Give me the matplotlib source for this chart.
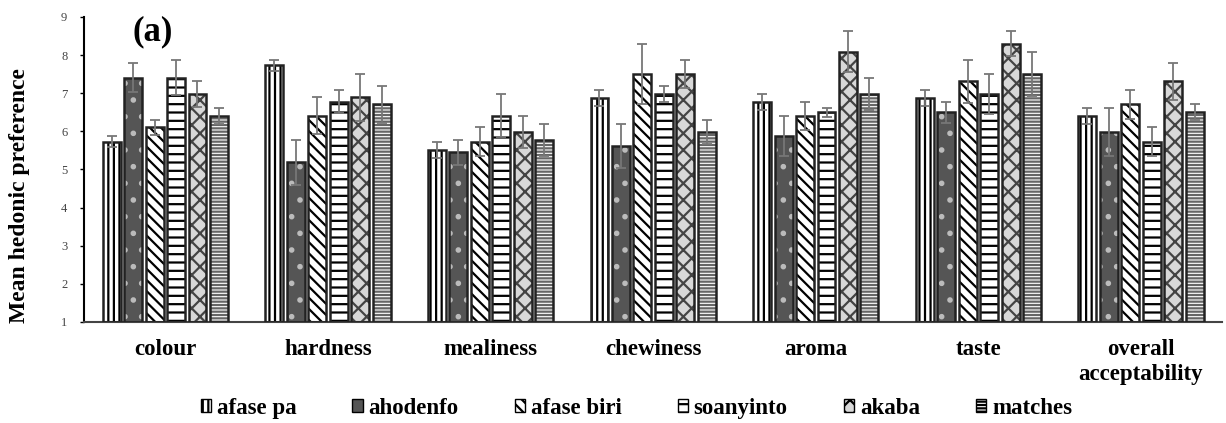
import numpy as np
import matplotlib
matplotlib.use('Agg')
import matplotlib.pyplot as plt
from matplotlib.patches import Patch

attributes = ['colour', 'hardness', 'mealiness', 'chewiness', 'aroma', 'taste', 'overall\nacceptability']
samples = ['afase pa', 'ahodenfo', 'afase biri', 'soanyinto', 'akaba', 'matches']

afase_pa = [5.73, 7.73, 5.51, 6.88, 6.77, 6.88, 6.41]
ahodenfo = [7.41, 5.19, 5.45, 5.62, 5.88, 6.50, 5.98]
afase_biri = [6.10, 6.41, 5.73, 7.51, 6.41, 7.31, 6.71]
soanyinto = [7.41, 6.78, 6.41, 6.98, 6.50, 6.98, 5.73]
akaba = [6.98, 6.89, 5.98, 7.51, 8.09, 8.30, 7.31]
matches = [6.41, 6.71, 5.77, 5.98, 6.98, 7.51, 6.50]

afase_pa_err = [0.15, 0.15, 0.20, 0.21, 0.21, 0.21, 0.21]
ahodenfo_err = [0.38, 0.59, 0.33, 0.58, 0.53, 0.28, 0.64]
afase_biri_err = [0.20, 0.48, 0.37, 0.79, 0.37, 0.57, 0.38]
soanyinto_err = [0.47, 0.31, 0.57, 0.21, 0.12, 0.53, 0.37]
akaba_err = [0.33, 0.62, 0.43, 0.37, 0.53, 0.32, 0.48]
matches_err = [0.21, 0.48, 0.43, 0.32, 0.43, 0.58, 0.21]

values = [afase_pa, ahodenfo, afase_biri, soanyinto, akaba, matches]
errors = [afase_pa_err, ahodenfo_err, afase_biri_err, soanyinto_err, akaba_err, matches_err]

# (facecolor, hatch, hatch colour)
styles = [
    ('white', '|||', 'black'),
    ('#555555', '.', '#bbbbbb'),
    ('white', '\\\\\\', 'black'),
    ('white', '--', 'black'),
    ('#d8d8d8', 'xx', '#444444'),
    ('white', '-----', '#666666'),
]

plt.rcParams['font.family'] = ['Liberation Serif', 'DejaVu Serif']
plt.rcParams['hatch.linewidth'] = 1.6

fig, ax = plt.subplots(figsize=(12.26, 4.23), dpi=100)
fig.subplots_adjust(left=0.0685, right=0.997, top=0.96, bottom=0.239)

x = np.arange(len(attributes))
pitch = 0.132
width = 0.11

for i, (vals, errs) in enumerate(zip(values, errors)):
    fc, hatch, hc = styles[i]
    pos = x + (i - 2.5) * pitch
    heights = np.array(vals) - 1
    ax.bar(pos, heights, width, bottom=1, color=fc, hatch=hatch, edgecolor=hc, linewidth=0, zorder=2)
    ax.bar(pos, heights, width, bottom=1, fill=False, edgecolor='#222222', linewidth=1.8, zorder=3)
    ax.errorbar(pos, vals, yerr=errs, fmt='none', ecolor='#777777', elinewidth=1.3,
                capsize=3.5, capthick=1.3, zorder=4)

ax.set_xlim(-0.5, 6.5)
ax.set_ylim(1, 9)
ax.set_yticks(range(1, 10))
ax.tick_params(axis='y', labelsize=9, labelcolor='#444444', length=3, width=1, pad=9)
ax.tick_params(axis='x', length=0, pad=12)
ax.set_xticks(x)
ax.set_xticklabels(attributes, fontsize=16.5, fontweight='bold', linespacing=1.25)
ax.set_ylabel('Mean hedonic preference', fontsize=17, fontweight='bold')
ax.yaxis.set_label_coords(-0.047, 0.415)
ax.spines['top'].set_visible(False)
ax.spines['right'].set_visible(False)
ax.spines['left'].set_linewidth(1.5)
ax.spines['bottom'].set_linewidth(1.5)
ax.spines['bottom'].set_color('#444444')

ax.text(0.043, 0.95, '(a)', transform=ax.transAxes, fontsize=25, fontweight='bold',
        va='center', ha='left')

handles = [Patch(facecolor=s[0], hatch=s[1], edgecolor='black', linewidth=1.0) for s in styles]
fig.legend(handles, samples, loc='center', bbox_to_anchor=(0.519, 0.035), ncol=6,
           frameon=False, prop={'weight': 'bold', 'size': 16.5}, handlelength=0.45,
           handleheight=0.45, handletextpad=0.25, columnspacing=2.45)

fig.savefig('out.png', dpi=100)
